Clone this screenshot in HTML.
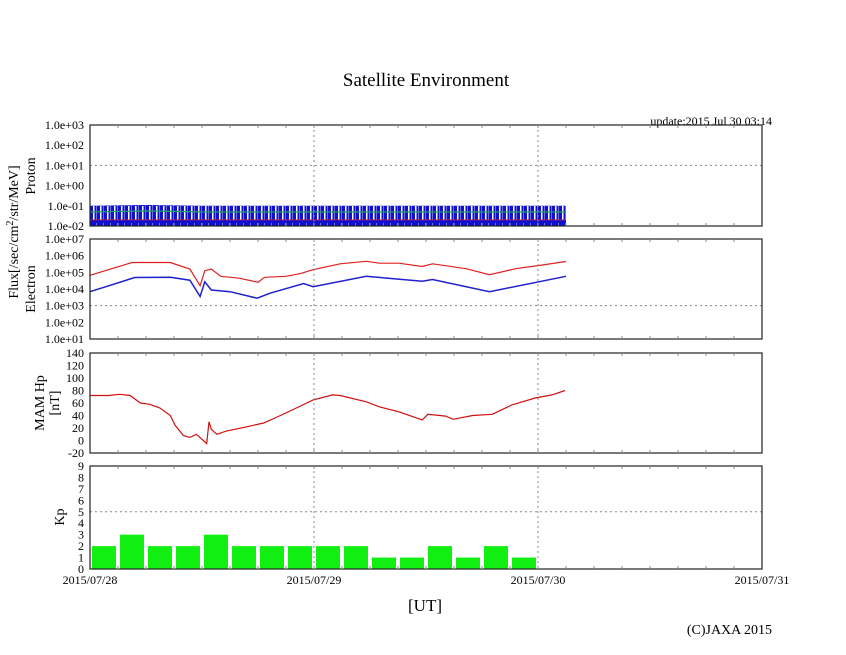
<!DOCTYPE html>
<html><head><meta charset="utf-8"><style>
body{margin:0;background:#fff;}
svg{display:block;font-family:"Liberation Serif",serif;}
</style></head><body>
<svg id="c" width="846" height="655" xmlns="http://www.w3.org/2000/svg">
<defs>
<pattern id="noise" width="7" height="20" patternUnits="userSpaceOnUse">
<rect x="0" y="0" width="7" height="20" fill="#1010d0"/>
<rect x="2" y="6" width="1.5" height="14" fill="#fff"/>
<rect x="5" y="3" width="1" height="17" fill="#7070e0"/>
</pattern>
</defs>
<text x="426" y="86" font-size="19" text-anchor="middle">Satellite Environment</text>
<text x="772" y="125" font-size="12" text-anchor="end">update:2015 Jul 30 03:14</text>
<text x="425" y="611" font-size="17" text-anchor="middle">[UT]</text>
<text x="772" y="634" font-size="14" text-anchor="end">(C)JAXA 2015</text>
<g id="g"></g>
</svg>
<script>
const xTickLabels=["2015/07/28","2015/07/29","2015/07/30","2015/07/31"];
const kpValues=[2,3,2,2,3,2,2,2,2,2,1,1,2,1,2,1];
const mamHours=[0,2,3.2,4.3,5.4,6.4,7.5,8.6,9.1,10,10.7,11.4,12,12.5,12.75,13,13.6,14.6,16.8,18.6,20.4,22.1,23.9,26,26.8,29.6,31,33.1,35.6,36.2,38.1,38.9,41,43.1,45.2,47.7,49.5,50.9];
const mamValues=[72,72,74,72,60,58,52,40,25,8,5,10,2,-5,30,18,10,15,22,28,40,52,65,73,72,62,54,46,33,42,39,34,40,42,57,68,73,80];
const eRedHours=[0,4.5,8.6,10.7,11.8,12.3,13,14,16,18,18.7,21,22.5,23.9,26.8,29.6,31,33.1,35.6,36.7,40.3,42.8,45.6,48.1,51];
const eRedLog=[4.82,5.59,5.59,5.2,4.2,5.1,5.2,4.76,4.65,4.4,4.7,4.76,4.92,5.16,5.51,5.66,5.55,5.55,5.35,5.51,5.22,4.86,5.22,5.41,5.65];
const eBlueHours=[0,4.8,8.6,10.7,11.8,12.3,13,15,17.9,19.3,22.9,23.9,29.6,35.6,36.7,42.8,51];
const eBlueLog=[3.84,4.69,4.71,4.53,3.55,4.43,3.94,3.84,3.45,3.75,4.33,4.14,4.76,4.47,4.57,3.84,4.76];
const protonHours=[0,6,12,18,24,30,36,42,48,51];
const protonBlueHigh=[0.1,0.11,0.1,0.1,0.1,0.1,0.1,0.1,0.1,0.1];
const protonGreen=[0.05,0.055,0.05,0.05,0.05,0.05,0.05,0.05,0.05,0.05];
const protonRedHigh=[0.02,0.02,0.02,0.02,0.02,0.02,0.02,0.02,0.02,0.02];

const NS="http://www.w3.org/2000/svg",G=document.getElementById('g');
const X0=90,X1=762;
const xH=h=>X0+(X1-X0)*h/72;
function el(t,a,p){const e=document.createElementNS(NS,t);for(const k in a)e.setAttribute(k,a[k]);(p||G).appendChild(e);return e;}
function panel(name,top,bot){
  const r=el('rect',{x:X0,y:top,width:X1-X0,height:bot-top,fill:'none',stroke:'#222','stroke-width':1.2});
  
  
  for(let h=3;h<72;h+=3){const x=xH(h);
    if(h%24==0){el('line',{x1:x,x2:x,y1:top,y2:bot,stroke:'#888','stroke-dasharray':'2,3'});}
    el('line',{x1:x,x2:x,y1:top,y2:top+3,stroke:'#888'});el('line',{x1:x,x2:x,y1:bot,y2:bot-3,stroke:'#888'});}
}
function ylab(txt,y,name){const t=el('text',{x:84,y:y+4,'font-size':12,'text-anchor':'end'});t.textContent=txt;
  }
function hgrid(y){el('line',{x1:X0,x2:X1,y1:y,y2:y,stroke:'#888','stroke-dasharray':'2,3'});}
function path(xs,ys,col,name,sw){let d='';xs.forEach((h,i)=>{d+=(i?'L':'M')+xH(h).toFixed(1)+','+ys[i].toFixed(1);});
  const p=el('path',{d:d,fill:'none',stroke:col,'stroke-width':sw||1.2});return p;}

// Proton
const pT=125,pB=226,pY=v=>pB-(Math.log10(v)+2)*(pB-pT)/5;
["1.0e-02","1.0e-01","1.0e+00","1.0e+01","1.0e+02","1.0e+03"].forEach((s,i)=>ylab(s,pY(Math.pow(10,i-2)),'proton-y-tick'));
hgrid(pY(10));
{let d='';protonHours.forEach((h,i)=>{d+=(i?'L':'M')+xH(h)+','+pY(protonBlueHigh[i]);});
 d+='L'+xH(51)+','+pB+'L'+xH(0)+','+pB+'Z';
 const p=el('path',{d:d,fill:'url(#noise)'});}
path(protonHours,protonGreen.map(pY),'#20a060','proton-green-series',1.2);
path(protonHours,protonRedHigh.map(pY),'#e02020','proton-red-series',0.8);
panel('proton',pT,pB);

// Electron
const eT=239,eB=339,eY=l=>eB-(l-1)*(eB-eT)/6;
["1.0e+01","1.0e+02","1.0e+03","1.0e+04","1.0e+05","1.0e+06","1.0e+07"].forEach((s,i)=>ylab(s,eY(i+1),'electron-y-tick'));
hgrid(eY(3));
path(eRedHours,eRedLog.map(eY),'#e02020','electron-red-series');
path(eBlueHours,eBlueLog.map(eY),'#2020d0','electron-blue-series',1.5);
panel('electron',eT,eB);

// MAM
const mT=353,mB=453,mY=v=>mB-(v+20)*(mB-mT)/160;
for(let v=-20;v<=140;v+=20)ylab(String(v),mY(v),'mam-y-tick');
path(mamHours,mamValues.map(mY),'#d01010','mam-hp-series');
panel('mam',mT,mB);

// Kp
const kT=466,kB=569,kY=v=>kB-v*(kB-kT)/9;
for(let v=0;v<=9;v++)ylab(String(v),kY(v),'kp-y-tick');
hgrid(kY(5));
kpValues.forEach((v,i)=>{const x=xH(i*3)+2,w=xH(3)-X0-4;
  const r=el('rect',{x:x,y:kY(v),width:w,height:kB-kY(v),fill:'#11ee11'});
  
  });
panel('kp',kT,kB);

xTickLabels.forEach((s,i)=>{const t=el('text',{x:xH(i*24),y:584,'font-size':12,'text-anchor':'middle'});t.textContent=s;
  });

function rot(lines,cx,cy,name){const t=el('text',{transform:`translate(${cx},${cy}) rotate(-90)`,'font-size':14,'text-anchor':'middle'});
  lines.forEach((s,i)=>{const ts=el('tspan',{x:0,dy:i?15:0},t);ts.innerHTML=s;});
  }
rot(['Flux[/sec/cm<tspan dy="-5" font-size="10">2</tspan><tspan dy="5">/str/MeV]</tspan>'],18,232,'flux-axis-title');
rot(['Proton'],35,176,'proton-axis-title');
rot(['Electron'],35,289,'electron-axis-title');
rot(['MAM Hp','[nT]'],44,403,'mam-axis-title');
rot(['Kp'],64,517,'kp-axis-title');
</script>
</body></html>
